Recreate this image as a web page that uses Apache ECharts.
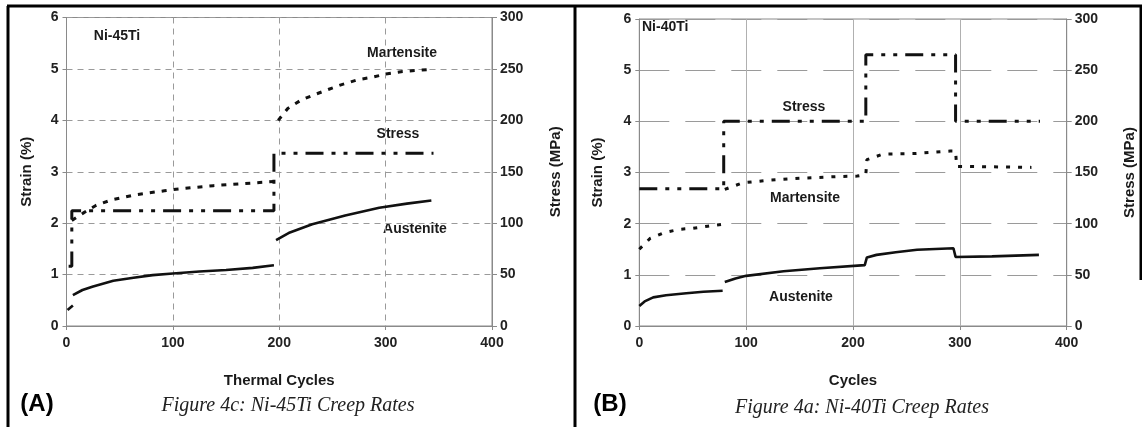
<!DOCTYPE html>
<html>
<head>
<meta charset="utf-8">
<script src="https://cdn.jsdelivr.net/npm/echarts@6/dist/echarts.min.js"></script>
<style>
  html, body { margin: 0; padding: 0; background: #fff; }
  #chart { width: 1142px; height: 427px; }
</style>
</head>
<body>
<div id="chart"></div>
<script>
// Axis ticks shared by both panels
const cycleTicks = [0, 100, 200, 300, 400];
const strainTicks = [0, 1, 2, 3, 4, 5, 6];
const stressTicks = [0, 50, 100, 150, 200, 250, 300];

// (A) Ni-45Ti — [cycle, strain %]; null breaks the curve
const austeniteA = [[1, 0.31], [6, 0.40], null,
  [6, 0.60], [15, 0.70], [25, 0.77], [44, 0.88], [63, 0.94], [81, 0.99], [100, 1.02],
  [125, 1.06], [150, 1.09], [175, 1.13], [195, 1.18], null,
  [197, 1.67], [210, 1.82], [231, 1.98], [262, 2.15], [294, 2.30], [320, 2.38], [343, 2.44]];
const martensiteA = [[5, 2.05], [10, 2.12], [16, 2.20], [28, 2.35], [42, 2.45], [64, 2.55],
  [92, 2.63], [103, 2.66], [138, 2.73], [188, 2.80], [195, 2.81], null,
  [199, 4.00], [208, 4.23], [221, 4.40], [232, 4.49], [246, 4.60], [258, 4.69], [274, 4.79],
  [288, 4.84], [300, 4.90], [316, 4.95], [329, 4.97], [343, 4.99]];
// [cycle, stress MPa]
const stressA = [[2, 58], [5, 58], [5, 112], [195, 112], [195, 168], [345, 168]];

// (B) Ni-40Ti
const austeniteB = [[0, 0.39], [5, 0.48], [13, 0.56], [25, 0.60], [44, 0.64], [60, 0.67], [78, 0.69], null,
  [80, 0.86], [90, 0.93], [100, 0.98], [135, 1.07], [169, 1.13], [211, 1.19], [213, 1.34],
  [222, 1.39], [240, 1.44], [260, 1.49], [294, 1.52], [296, 1.35], [330, 1.36], [374, 1.39]];
const martensiteB = [[0, 1.50], [10, 1.71], [24, 1.83], [38, 1.89], [50, 1.91], [64, 1.95], [78, 1.99], null,
  [80, 2.67], [97, 2.80], [122, 2.85], [153, 2.89], [185, 2.92], [204, 2.93], [212, 2.96],
  [213, 3.25], [228, 3.36], [257, 3.37], [291, 3.42], [296, 3.42], [297, 3.12], [367, 3.10]];
const stressB = [[0, 134], [79, 134], [79, 200], [212, 200], [212, 265], [296, 265], [296, 200], [375, 200]];

const SANS = '"Liberation Sans", Arial, sans-serif';
const SERIF = '"Liberation Serif", "Times New Roman", serif';
const INK = '#111';
const AXIS = '#8a8a8a';

function xAxisFor(gridIndex, name, gridDash) {
  return {
    type: 'value', gridIndex, min: cycleTicks[0], max: cycleTicks[cycleTicks.length - 1], interval: 100,
    name, nameLocation: 'middle', nameGap: 47,
    nameTextStyle: { fontFamily: SANS, fontWeight: 'bold', fontSize: 15, color: '#1a1a1a' },
    axisLine: { show: true, lineStyle: { color: AXIS, width: 1 } },
    axisTick: { show: true, length: 4, lineStyle: { color: AXIS } },
    axisLabel: { fontFamily: SANS, fontWeight: 'bold', fontSize: 14, color: '#222', margin: 10 },
    splitLine: { show: true, lineStyle: { color: '#9a9a9a', width: 1, type: gridDash } }
  };
}
function strainAxis(gridIndex, gridDash, gap) {
  return {
    type: 'value', gridIndex, position: 'left', min: strainTicks[0], max: strainTicks[strainTicks.length - 1], interval: 1,
    name: 'Strain (%)', nameLocation: 'middle', nameGap: gap,
    nameTextStyle: { fontFamily: SANS, fontWeight: 'bold', fontSize: 15, color: '#1a1a1a' },
    axisLine: { show: true, lineStyle: { color: AXIS, width: 1 } },
    axisTick: { show: true, length: 4, lineStyle: { color: AXIS } },
    axisLabel: { fontFamily: SANS, fontWeight: 'bold', fontSize: 14, color: '#222', margin: 8 },
    splitLine: { show: true, lineStyle: { color: '#9a9a9a', width: 1, type: gridDash } }
  };
}
function stressAxis(gridIndex, gap) {
  return {
    type: 'value', gridIndex, position: 'right', min: stressTicks[0], max: stressTicks[stressTicks.length - 1], interval: 50,
    name: 'Stress (MPa)', nameLocation: 'middle', nameGap: gap, nameRotate: 90,
    nameTextStyle: { fontFamily: SANS, fontWeight: 'bold', fontSize: 15, color: '#1a1a1a' },
    axisLine: { show: true, lineStyle: { color: AXIS, width: 1 } },
    axisTick: { show: true, length: 5, lineStyle: { color: AXIS } },
    axisLabel: { fontFamily: SANS, fontWeight: 'bold', fontSize: 14, color: '#222', margin: 8 },
    splitLine: { show: false }
  };
}

function curve(data, xi, yi, dash, width) {
  return {
    type: 'line', data, xAxisIndex: xi, yAxisIndex: yi,
    showSymbol: false, connectNulls: false, silent: true,
    lineStyle: { color: INK, width, type: dash, cap: 'butt' }
  };
}

function label(text, x, y, opts) {
  return {
    type: 'text', x, y, silent: true,
    style: Object.assign({
      text, fill: '#1a1a1a', font: 'bold 14px ' + SANS,
      textAlign: 'center', textVerticalAlign: 'middle'
    }, opts || {})
  };
}
function rule(x1, y1, x2, y2) {
  return { type: 'line', silent: true, shape: { x1, y1, x2, y2 }, style: { stroke: '#000', lineWidth: 3 } };
}

const shortGrid = [6, 5];
const longGrid = [30, 16];
const dotted = [5, 7];
const dashDotDot = [18, 8, 4, 8, 4, 8];

const chart = echarts.init(document.getElementById('chart'), null, { renderer: 'canvas' });
chart.setOption({
  animation: false,
  backgroundColor: '#fff',
  grid: [
    { left: 66.5, top: 17.5, width: 425.5, height: 308.5, show: true, borderColor: AXIS, borderWidth: 1, containLabel: false },
    { left: 639.3, top: 19, width: 427.4, height: 307, show: true, borderColor: AXIS, borderWidth: 1, containLabel: false }
  ],
  xAxis: [
    xAxisFor(0, 'Thermal Cycles', shortGrid),
    Object.assign(xAxisFor(1, 'Cycles', 'solid'), {
      splitLine: { show: true, lineStyle: { color: '#b0b0b0', width: 1, type: 'solid' } }
    })
  ],
  yAxis: [
    strainAxis(0, shortGrid, 32),
    stressAxis(0, 56),
    strainAxis(1, longGrid, 34),
    stressAxis(1, 56)
  ],
  series: [
    curve(austeniteA, 0, 0, 'solid', 2.6),
    curve(martensiteA, 0, 0, dotted, 3),
    curve(stressA, 0, 1, dashDotDot, 3),
    curve(austeniteB, 1, 2, 'solid', 2.6),
    curve(martensiteB, 1, 2, [4, 8], 3),
    curve(stressB, 1, 3, dashDotDot, 3)
  ],
  graphic: [
    // panel frame
    rule(7, 6, 1142, 6),
    rule(8, 6, 8, 427),
    rule(575, 6, 575, 427),
    rule(1141, 6, 1141, 280),
    // (A) annotations
    label('Ni-45Ti', 117, 36),
    label('Martensite', 402, 53),
    label('Stress', 398, 134),
    label('Austenite', 415, 229),
    label('(A)', 37, 404, { font: 'bold 24px ' + SANS, fill: '#000' }),
    label('Figure 4c: Ni-45Ti Creep Rates', 288, 406, { font: 'italic 20px ' + SERIF, fill: '#222' }),
    // (B) annotations
    label('Ni-40Ti', 642, 27, { textAlign: 'left' }),
    label('Stress', 804, 107),
    label('Martensite', 805, 198),
    label('Austenite', 801, 297),
    label('(B)', 610, 404, { font: 'bold 24px ' + SANS, fill: '#000' }),
    label('Figure 4a: Ni-40Ti Creep Rates', 862, 408, { font: 'italic 20px ' + SERIF, fill: '#222' })
  ]
});
</script>
</body>
</html>
